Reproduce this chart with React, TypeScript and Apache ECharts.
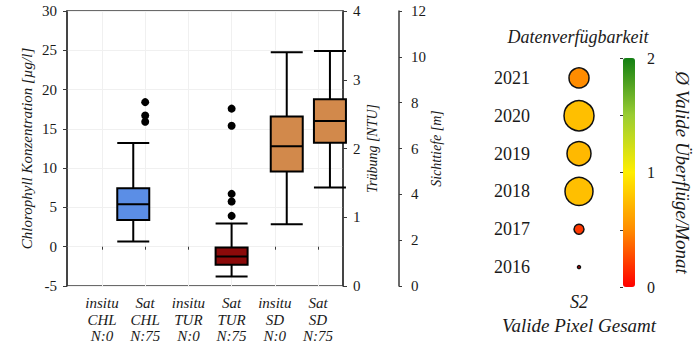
import React, { useEffect, useRef } from "react";
import * as echarts from "echarts";

// ---- Box plot panel data ----
const sources = ["insitu", "Sat", "insitu", "Sat", "insitu", "Sat"];
const params = ["CHL", "CHL", "TUR", "TUR", "SD", "SD"];
const counts = [0, 75, 0, 75, 0, 75];
const categories = sources.map((s, i) => `${s} ${params[i]}`);

// [min, Q1, median, Q3, max]
const chlSatBox = [0.65, 3.4, 5.4, 7.45, 13.2]; // µg/l
const chlSatOutliers = [18.4, 16.7, 15.9];
const turSatBox = [0.14, 0.31, 0.43, 0.56, 0.91]; // NTU
const turSatOutliers = [2.58, 2.33, 1.34, 1.23, 1.02];
const sdInsituBox = [2.7, 5.0, 6.1, 7.4, 10.2]; // m
const sdSatBox = [4.3, 6.25, 7.2, 8.15, 10.25]; // m

// ---- Data availability panel ----
const years = ["2016", "2017", "2018", "2019", "2020", "2021"];
const overflightsPerMonth = [0.0, 0.2, 0.76, 0.73, 0.76, 0.5];
const validPixelsTotal = [0.09, 1.0, 7.84, 5.76, 9.0, 4.0];
const sensor = ["S2"];

const FONT = "'Liberation Serif', 'Times New Roman', serif";
const TXT = "#1a1a1a";
const AX = "#3a3a3a";

export default function App() {
  const ref = useRef<HTMLDivElement>(null);
  useEffect(() => {
    if (!ref.current) return;
    const chart = echarts.init(ref.current, undefined, { renderer: "svg" });

    const labelLines = (name: string) => {
      const i = categories.indexOf(name);
      return `{i|${sources[i]}}\n{i|${params[i]}}\n{i|N:${counts[i]}}`;
    };

    const option: any = {
      animation: false,
      backgroundColor: "#ffffff",
      textStyle: { fontFamily: FONT, color: TXT },
      title: {
        text: "Datenverfügbarkeit",
        left: 578,
        textAlign: "center",
        top: 28,
        padding: 0,
        textStyle: { fontFamily: FONT, fontStyle: "italic", fontWeight: "normal", fontSize: 18, color: TXT },
      },
      grid: [
        { left: 67, top: 11, width: 276, height: 275, show: true, borderColor: AX, borderWidth: 1.5, backgroundColor: "transparent" },
        { left: 80.4, top: 11, width: 259.2, height: 275 },
        { left: 545, top: 59, width: 68, height: 227 },
        { left: 623, top: 58, width: 12, height: 229 },
      ],
      xAxis: [
        { gridIndex: 0, type: "value", min: 0, max: 1, show: false },
        {
          gridIndex: 1,
          type: "category",
          data: categories,
          axisLine: { show: false },
          axisTick: { show: true, alignWithLabel: true, length: 3, lineStyle: { color: AX, width: 1 } },
          splitLine: { show: true, alignWithLabel: true, lineStyle: { color: "#f0f0f0", width: 1 } },
          axisLabel: {
            margin: 9,
            interval: 0,
            formatter: labelLines,
            rich: {
              i: { fontFamily: FONT, fontStyle: "italic", fontSize: 15, lineHeight: 16.5, color: TXT },
            },
          },
        },
        {
          gridIndex: 2,
          type: "category",
          data: sensor,
          axisLine: { show: false },
          axisTick: { show: false },
          axisLabel: { margin: 7, fontFamily: FONT, fontStyle: "italic", fontSize: 18, color: TXT },
          name: "Valide Pixel Gesamt",
          nameLocation: "middle",
          nameGap: 29,
          nameTextStyle: { fontFamily: FONT, fontStyle: "italic", fontSize: 19, color: TXT },
        },
        { gridIndex: 3, type: "value", min: 0, max: 1, show: false },
      ],
      yAxis: [
        {
          gridIndex: 0,
          type: "value",
          min: -5,
          max: 30,
          interval: 5,
          position: "left",
          axisLine: { show: true, lineStyle: { color: AX, width: 1.5 } },
          axisTick: { show: true, length: 4, lineStyle: { color: AX } },
          splitLine: { show: true, lineStyle: { color: "#f0f0f0", width: 1 } },
          axisLabel: { margin: 10, fontFamily: FONT, fontSize: 15, color: TXT },
          name: "Chlorophyll Konzentration [µg/l]",
          nameLocation: "middle",
          nameGap: 33,
          nameTextStyle: { fontFamily: FONT, fontStyle: "italic", fontSize: 15, color: TXT },
        },
        {
          gridIndex: 0,
          type: "value",
          min: 0,
          max: 4,
          interval: 1,
          position: "right",
          axisLine: { show: true, lineStyle: { color: AX, width: 1.5 } },
          axisTick: { show: true, length: 4, lineStyle: { color: AX } },
          splitLine: { show: false },
          axisLabel: { margin: 10, fontFamily: FONT, fontSize: 15, color: TXT },
          name: "Trübung [NTU]",
          nameLocation: "middle",
          nameGap: 22,
          nameTextStyle: { fontFamily: FONT, fontStyle: "italic", fontSize: 14, color: TXT },
        },
        {
          gridIndex: 0,
          type: "value",
          min: 0,
          max: 12,
          interval: 2,
          position: "right",
          offset: 56,
          axisLine: { show: true, lineStyle: { color: AX, width: 1.5 } },
          axisTick: { show: true, length: 3, lineStyle: { color: AX } },
          splitLine: { show: false },
          axisLabel: { margin: 12, fontFamily: FONT, fontSize: 15, color: TXT },
          name: "Sichttiefe [m]",
          nameLocation: "middle",
          nameGap: 29,
          nameTextStyle: { fontFamily: FONT, fontStyle: "italic", fontSize: 14, color: TXT },
        },
        { gridIndex: 1, type: "value", min: -5, max: 30, show: false },
        { gridIndex: 1, type: "value", min: 0, max: 4, show: false },
        { gridIndex: 1, type: "value", min: 0, max: 12, show: false },
        {
          gridIndex: 2,
          type: "category",
          data: years,
          axisLine: { show: false },
          axisTick: { show: false },
          axisLabel: { margin: 15, fontFamily: FONT, fontSize: 18, color: TXT },
        },
        {
          gridIndex: 3,
          type: "value",
          min: 0,
          max: 2,
          interval: 0.5,
          position: "right",
          axisLine: { show: false },
          axisTick: { show: true, inside: true, length: 3, lineStyle: { color: "#333" } },
          splitLine: { show: false },
          axisLabel: {
            margin: 12,
            fontFamily: FONT,
            fontSize: 16,
            color: TXT,
            formatter: (v: number) => (Number.isInteger(v) ? String(v) : ""),
          },
          name: "Ø Valide Überflüge/Monat",
          nameLocation: "middle",
          nameRotate: -90,
          nameGap: 38,
          nameTextStyle: { fontFamily: FONT, fontStyle: "italic", fontSize: 19, color: TXT },
        },
      ],
      visualMap: {
        type: "continuous",
        seriesIndex: 6,
        dimension: 2,
        min: 0,
        max: 2,
        calculable: false,
        realtime: false,
        left: 623,
        top: 58,
        padding: 0,
        itemWidth: 12,
        itemHeight: 229,
        inRange: { color: ["#ff0000", "#ff8c00", "#ffee00", "#9acd32", "#137f13"] },
        textStyle: { color: TXT },
      },
      series: [
        {
          type: "boxplot",
          xAxisIndex: 1,
          yAxisIndex: 3,
          data: [["Sat CHL", ...chlSatBox]],
          encode: { x: 0, y: [1, 2, 3, 4, 5] },
          boxWidth: [32, 32],
          itemStyle: { color: "#5b8ee6", borderColor: "#000", borderWidth: 2 },
        },
        {
          type: "boxplot",
          xAxisIndex: 1,
          yAxisIndex: 4,
          data: [["Sat TUR", ...turSatBox]],
          encode: { x: 0, y: [1, 2, 3, 4, 5] },
          boxWidth: [32, 32],
          itemStyle: { color: "#8b0a0a", borderColor: "#000", borderWidth: 2 },
        },
        {
          type: "boxplot",
          xAxisIndex: 1,
          yAxisIndex: 5,
          data: [
            ["insitu SD", ...sdInsituBox],
            ["Sat SD", ...sdSatBox],
          ],
          encode: { x: 0, y: [1, 2, 3, 4, 5] },
          boxWidth: [32, 32],
          itemStyle: { color: "#d2894b", borderColor: "#000", borderWidth: 2 },
        },
        {
          type: "scatter",
          xAxisIndex: 1,
          yAxisIndex: 3,
          symbolSize: 8,
          itemStyle: { color: "#000", opacity: 1 },
          data: chlSatOutliers.map((v) => ["Sat CHL", v]),
        },
        {
          type: "scatter",
          xAxisIndex: 1,
          yAxisIndex: 4,
          symbolSize: 8,
          itemStyle: { color: "#000", opacity: 1 },
          data: turSatOutliers.map((v) => ["Sat TUR", v]),
        },
        { type: "scatter", xAxisIndex: 3, yAxisIndex: 7, data: [] },
        {
          type: "scatter",
          xAxisIndex: 2,
          yAxisIndex: 6,
          symbolSize: (v: any[]) => 10 * Math.sqrt(v[3]),
          itemStyle: { borderColor: "#111", borderWidth: 1.5, opacity: 1 },
          data: years.map((y, i) => [sensor[0], y, overflightsPerMonth[i], validPixelsTotal[i]]),
        },
      ],
    };

    chart.setOption(option);
    return () => chart.dispose();
  }, []);

  return (
    <div
      ref={ref}
      style={{ position: "fixed", left: 0, top: 0, width: 697, height: 351, background: "#fff" }}
    />
  );
}
